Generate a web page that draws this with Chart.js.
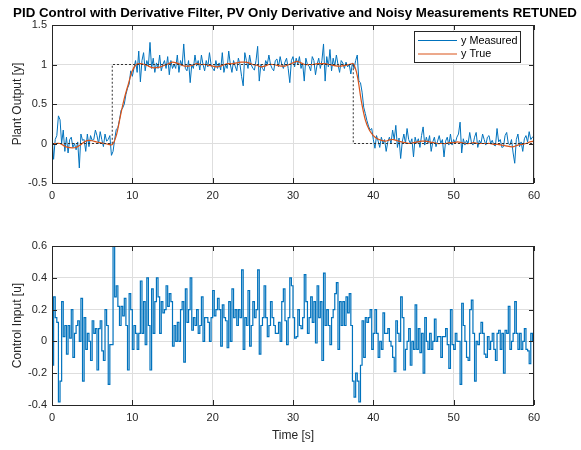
<!DOCTYPE html>
<html>
<head>
<meta charset="utf-8">
<script src="https://cdn.jsdelivr.net/npm/chart.js@4/dist/chart.umd.min.js"></script>
<style>
  html, body { margin: 0; padding: 0; background: #fff; }
  #wrap { position: relative; width: 581px; height: 450px; }
  .panel { position: absolute; left: 0; width: 581px; }
  #topPanel { top: 0; height: 222px; }
  #bottomPanel { top: 222px; height: 228px; }
</style>
</head>
<body>
<div id="wrap">
  <div class="panel" id="topPanel"><canvas id="outputChart" width="581" height="222"></canvas></div>
  <div class="panel" id="bottomPanel"><canvas id="inputChart" width="581" height="228"></canvas></div>
</div>
<script>
// sample step of the measured signals (s)
const dt = 0.2;

// measured plant output, one value every 0.2 s (rows = 2 s)
const yMeasured = [
  0.1, -0.2, 0.05, 0.1, 0.35, 0.3, 0.0, 0.17, -0.1, 0.08,
  -0.12, 0.05, 0.08, -0.05, 0.0, -0.08, 0.02, -0.31, 0.12, 0.04,
  0.05, -0.1, 0.12, -0.04, 0.1, 0.04, 0.05, 0.17, 0.1, 0.0,
  0.15, 0.05, -0.04, 0.12, 0.03, 0.05, 0.1, -0.15, -0.1, 0.05,
  0.18, 0.2, 0.3, 0.42, 0.45, 0.5, 0.62, 0.7, 0.75, 0.92,
  0.85, 0.95, 1.05, 0.9, 1.17, 0.78, 1.05, 1.15, 0.92, 1.05,
  0.98, 1.28, 0.95, 1.08, 0.9, 1.02, 0.95, 1.12, 0.92, 1.0,
  1.05, 0.95, 1.1, 0.87, 1.05, 0.95, 1.0, 0.95, 1.12, 0.9,
  1.05, 0.98, 1.26, 0.95, 0.92, 1.05, 0.77, 1.0, 0.95, 1.12,
  0.98, 1.05, 0.93, 1.12, 1.0, 0.92, 1.05, 0.97, 1.15, 1.0,
  0.95, 0.92, 1.05, 0.95, 1.02, 0.93, 1.15, 0.9, 1.0, 0.95,
  1.17, 1.0, 0.9, 1.05, 0.98, 0.92, 1.08, 1.0, 0.85, 0.73,
  1.15, 1.05, 0.95, 1.12, 1.0, 0.95, 0.93, 1.05, 1.23, 0.79,
  1.0, 0.95, 0.92, 1.05, 1.0, 1.12, 1.0, 0.95, 0.92, 1.05,
  1.07, 0.97, 1.1, 1.0, 0.95, 1.03, 1.08, 0.95, 0.77, 1.05,
  1.1, 0.97, 1.08, 1.0, 1.1, 0.95, 1.02, 0.79, 1.08, 1.0,
  0.98, 0.92, 1.1, 1.05, 0.87, 1.0, 1.08, 0.95, 1.05, 1.26,
  0.79, 1.1, 0.97, 1.19, 0.92, 1.08, 0.98, 1.12, 1.0, 0.9,
  1.05, 1.02, 0.95, 1.03, 0.97, 1.0, 0.88, 1.02, 0.95, 1.05,
  1.12, 0.79, 0.77, 0.65, 0.46, 0.38, 0.29, 0.22, 0.17, 0.19,
  0.05, -0.06, 0.1, 0.03, -0.05, 0.08, 0.0, 0.05, -0.1, 0.02,
  0.08, 0.0, 0.17, 0.05, 0.23, -0.05, 0.07, -0.19, 0.02, 0.12,
  0.0, 0.19, 0.05, 0.0, 0.06, -0.17, 0.08, 0.0, 0.06, -0.05,
  0.1, 0.21, -0.02, 0.08, 0.0, 0.1, -0.1, 0.02, 0.08, -0.04,
  0.03, 0.1, 0.0, 0.05, -0.17, 0.03, 0.08, -0.02, 0.12, -0.02,
  0.05, 0.0, 0.08, 0.12, 0.27, -0.12, 0.06, -0.02, 0.04, 0.0,
  0.14, 0.02, -0.02, 0.08, 0.14, -0.05, 0.04, 0.0, 0.12, 0.05,
  -0.02, 0.08, 0.1, 0.0, 0.04, -0.02, -0.03, 0.19, 0.02, 0.05,
  -0.05, -0.04, 0.1, 0.14, 0.0, -0.02, 0.05, -0.12, -0.25, 0.05,
  0.12, -0.04, 0.02, -0.1, 0.06, 0.1, 0.02, 0.15, 0.05, 0.08,
  0.1
];

// control input, same 0.2 s samples (drawn as stairs)
const uControl = [
  -0.15, 0.28, 0.15, 0.12, -0.38, -0.25, 0.25, 0.03, 0.1, -0.08,
  0.1, 0.02, 0.2, -0.1, 0.05, 0.1, 0.13, 0.0, 0.27, -0.25,
  0.15, -0.05, 0.05, 0.0, -0.12, 0.13, 0.05, 0.08, -0.18, 0.08,
  0.13, -0.06, -0.12, 0.2, 0.1, -0.27, -0.02, -0.02, 0.6, 0.28,
  0.35, 0.22, 0.1, 0.22, 0.16, 0.27, 0.1, -0.18, 0.3, 0.2,
  -0.05, 0.1, 0.05, -0.05, 0.05, 0.38, 0.05, 0.25, -0.02, 0.4,
  0.1, -0.18, 0.33, 0.05, 0.25, 0.4, 0.28, 0.05, 0.25, 0.18,
  0.2, 0.35, 0.22, 0.3, 0.25, -0.03, 0.1, 0.0, 0.12, 0.0,
  0.2, 0.25, -0.13, 0.33, 0.12, 0.2, 0.4, 0.07, 0.15, 0.1,
  0.2, 0.05, 0.1, 0.28, 0.0, 0.15, 0.15, 0.12, 0.0, 0.15,
  0.32, 0.16, 0.2, 0.27, 0.2, -0.03, 0.23, 0.15, 0.13, -0.04,
  0.25, 0.0, 0.33, 0.15, 0.2, 0.1, 0.2, 0.15, 0.45, -0.05,
  0.15, 0.1, 0.32, -0.03, 0.1, 0.25, 0.15, 0.2, 0.45, -0.08,
  0.1, 0.15, 0.35, 0.15, 0.03, 0.1, 0.25, 0.15, 0.1, 0.05,
  0.05, 0.12, 0.0, 0.25, 0.33, 0.13, -0.02, 0.15, 0.4, 0.35,
  0.15, 0.02, 0.03, 0.2, 0.1, 0.08, 0.15, 0.42, 0.25, 0.05,
  0.15, 0.28, 0.12, 0.25, -0.01, 0.35, 0.15, 0.25, -0.12, 0.43,
  0.1, 0.2, 0.1, -0.02, 0.15, 0.2, 0.3, 0.37, -0.05, 0.25,
  0.1, 0.25, 0.1, 0.28, 0.18, 0.3, 0.1, -0.25, -0.35, -0.2,
  -0.25, -0.38, -0.15, 0.13, -0.1, 0.15, 0.12, 0.15, 0.2, -0.05,
  0.05, 0.2, 0.05, -0.1, 0.0, -0.05, 0.18, 0.05, 0.05, 0.08,
  0.0, -0.03, -0.1, -0.19, 0.13, 0.05, 0.0, 0.28, 0.15, -0.18,
  -0.05, 0.0, 0.08, -0.15, 0.0, -0.05, 0.23, -0.05, 0.08, -0.07,
  0.05, -0.2, 0.15, 0.0, -0.05, 0.05, -0.05, 0.0, 0.14, 0.0,
  0.03, 0.03, -0.1, 0.03, 0.03, 0.08, -0.02, -0.17, 0.2, -0.02,
  -0.05, 0.05, 0.0, 0.0, -0.27, 0.24, 0.1, 0.0, -0.1, -0.12,
  0.2, 0.26, 0.05, -0.25, 0.0, -0.02, 0.05, 0.12, 0.05, -0.08,
  -0.1, 0.03, -0.05, 0.0, 0.05, -0.05, -0.12, 0.05, 0.07, -0.05,
  0.05, -0.2, 0.07, 0.05, 0.22, -0.05, 0.0, 0.05, 0.25, 0.05,
  -0.05, 0.05, -0.05, 0.0, 0.08, -0.05, -0.06, -0.14, 0.05, 0.0,
  -0.05
];

// true plant output, every 0.5 s (rows = 5 s)
const trueStep = 0.5;
const yTrue = [
  0, 0, 0, -0.03, -0.05, -0.055, -0.05, -0.02, 0.02, 0.04,
  0.035, 0.02, 0.01, 0, -0.01, -0.015, 0.1, 0.34, 0.57, 0.75,
  0.92, 1.0, 1.01, 1.0, 0.98, 0.96, 0.96, 0.97, 0.99, 1.01,
  1.03, 1.02, 1.0, 0.98, 0.98, 0.99, 1.01, 1.0, 1.0, 0.99,
  0.98, 0.97, 0.98, 1.0, 1.01, 1.01, 1.02, 1.03, 1.03, 1.02,
  1.0, 0.99, 0.97, 0.98, 1.0, 1.0, 0.99, 0.98, 0.98, 1.0,
  1.02, 1.04, 1.02, 1.0, 1.0, 1.0, 1.01, 1.01, 1.01, 1.0,
  0.99, 0.98, 0.98, 0.99, 1.0, 1.01, 0.86, 0.54, 0.3, 0.17,
  0.1, 0.06, 0.04, 0.03, 0.045, 0.05, 0.035, 0.02, 0.01, 0.0,
  0.01, 0.02, 0.03, 0.03, 0.02, 0.01, 0.0, 0.0, 0.0, 0.01,
  0.01, 0.02, 0.01, 0.0, 0.0, 0.01, 0.0, 0.0, 0.0, 0.0,
  -0.01, -0.01, -0.02, -0.03, -0.04, -0.04, -0.02, -0.01, 0.0, 0.02,
  0.03
];

// set point (dotted)
const spTime = [0, 7.5, 7.5, 37.5, 37.5, 60];
const spValue = [0, 0, 1, 1, 0, 0];

const xTicks = [0, 10, 20, 30, 40, 50, 60];

const FONT = '"Liberation Sans", Arial, Helvetica, sans-serif';
const INK = '#262626';
const BLUE = '#0072BD';
const ORANGE = '#D95319';

const measTime = yMeasured.map((v, i) => +(i * dt).toFixed(1));
const trueTime = yTrue.map((v, i) => i * trueStep);

function points(xs, ys) {
  return ys.map((y, i) => ({ x: xs[i], y: y }));
}

// MATLAB-like box, inward ticks and texts
const matlabFrame = {
  id: 'matlabFrame',
  afterDraw(chart, args, opts) {
    const ctx = chart.ctx;
    const a = chart.chartArea;
    const sx = chart.scales.x, sy = chart.scales.y;
    ctx.save();
    ctx.strokeStyle = INK;
    ctx.lineWidth = 1;
    ctx.beginPath();
    sx.ticks.forEach(t => {
      const px = Math.round(sx.getPixelForValue(t.value)) + 0.5;
      ctx.moveTo(px, a.bottom); ctx.lineTo(px, a.bottom - 5);
      ctx.moveTo(px, a.top); ctx.lineTo(px, a.top + 5);
    });
    sy.ticks.forEach(t => {
      const py = Math.round(sy.getPixelForValue(t.value)) + 0.5;
      ctx.moveTo(a.left, py); ctx.lineTo(a.left + 5, py);
      ctx.moveTo(a.right, py); ctx.lineTo(a.right - 5, py);
    });
    ctx.stroke();
    ctx.strokeRect(a.left + 0.5, a.top + 0.5, a.right - a.left - 1, a.bottom - a.top);

    ctx.fillStyle = INK;
    if (opts.title) {
      ctx.fillStyle = '#000';
      ctx.font = 'bold 13.3px ' + FONT;
      ctx.textAlign = 'center';
      ctx.textBaseline = 'alphabetic';
      ctx.fillText(opts.title, (a.left + a.right) / 2 + 2, 17);
      ctx.fillStyle = INK;
    }
    if (opts.yTitle) {
      ctx.save();
      ctx.translate(18, (a.top + a.bottom) / 2);
      ctx.rotate(-Math.PI / 2);
      ctx.font = '12px ' + FONT;
      ctx.textAlign = 'center';
      ctx.textBaseline = 'middle';
      ctx.fillText(opts.yTitle, 0, 0);
      ctx.restore();
    }
    if (opts.xTitle) {
      ctx.font = '12px ' + FONT;
      ctx.textAlign = 'center';
      ctx.textBaseline = 'middle';
      ctx.fillText(opts.xTitle, (a.left + a.right) / 2, a.bottom + 31);
    }
    if (opts.legend) {
      const bx = 414.5, by = 31.5, bw = 106, bh = 31;
      ctx.fillStyle = '#fff';
      ctx.fillRect(bx, by, bw, bh);
      ctx.strokeStyle = INK;
      ctx.strokeRect(bx, by, bw, bh);
      ctx.font = '10.8px ' + FONT;
      ctx.textAlign = 'left';
      ctx.textBaseline = 'middle';
      opts.legend.forEach((item, i) => {
        const ly = by + 9 + i * 13.5;
        ctx.strokeStyle = item.color;
        ctx.lineWidth = 1;
        ctx.beginPath();
        ctx.moveTo(418, ly); ctx.lineTo(457, ly);
        ctx.stroke();
        ctx.fillStyle = '#000';
        ctx.fillText(item.label, 461, ly + 0.5);
      });
    }
    ctx.restore();
  }
};

function baseOptions(yMin, yMax, yStep, padTop, xAxisHeight, frameOpts) {
  return {
    responsive: false,
    animation: false,
    events: [],
    layout: { padding: { top: padTop, right: 47, left: 0, bottom: 0 } },
    plugins: {
      legend: { display: false },
      tooltip: { enabled: false },
      matlabFrame: frameOpts
    },
    scales: {
      x: {
        type: 'linear', min: 0, max: 60,
        afterBuildTicks: s => { s.ticks = xTicks.map(v => ({ value: v })); },
        afterFit: s => { s.height = xAxisHeight; },
        grid: { color: '#dedede', drawTicks: false },
        border: { display: false },
        ticks: { color: INK, padding: 6, font: { family: FONT, size: 11 }, maxRotation: 0 }
      },
      y: {
        min: yMin, max: yMax,
        afterFit: s => { s.width = 52; },
        grid: { color: '#dedede', drawTicks: false },
        border: { display: false },
        ticks: {
          stepSize: yStep, color: INK, padding: 5,
          font: { family: FONT, size: 11 },
          callback: v => String(+v.toFixed(2))
        }
      }
    }
  };
}

new Chart(document.getElementById('outputChart'), {
  type: 'line',
  data: {
    datasets: [
      { label: 'Set Point', data: points(spTime, spValue), borderColor: '#333', borderWidth: 1,
        borderDash: [2, 2], pointRadius: 0, fill: false, order: 0 },
      { label: 'y True', data: points(trueTime, yTrue), borderColor: ORANGE, borderWidth: 1.2,
        pointRadius: 0, tension: 0.3, fill: false, order: 1 },
      { label: 'y Measured', data: points(measTime, yMeasured), borderColor: BLUE, borderWidth: 1,
        pointRadius: 0, fill: false, order: 2 }
    ]
  },
  options: baseOptions(-0.5, 1.5, 0.5, 25, 39, {
    title: 'PID Control with Derivative Filter, PV Only Derivative and Noisy Measurements RETUNED',
    yTitle: 'Plant Output [y]',
    legend: [ { label: 'y Measured', color: BLUE }, { label: 'y True', color: ORANGE } ]
  }),
  plugins: [matlabFrame]
});

new Chart(document.getElementById('inputChart'), {
  type: 'line',
  data: {
    datasets: [
      { label: 'u', data: points(measTime, uControl), borderColor: BLUE, borderWidth: 1.2,
        stepped: true, pointRadius: 0, fill: false }
    ]
  },
  options: baseOptions(-0.4, 0.6, 0.2, 24, 45, {
    yTitle: 'Control Input [u]',
    xTitle: 'Time [s]'
  }),
  plugins: [matlabFrame]
});
</script>
</body>
</html>
